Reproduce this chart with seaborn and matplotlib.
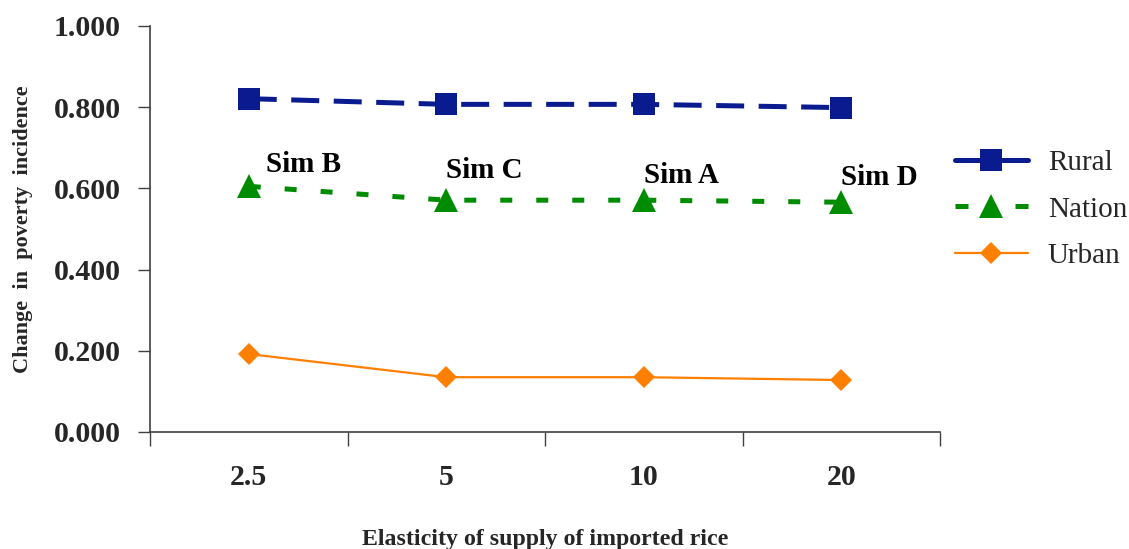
import numpy as np
import pandas as pd
import matplotlib
matplotlib.use("Agg")
import matplotlib.pyplot as plt
import seaborn as sns

# ---- data ----
categories = ["2.5", "5", "10", "20"]
rural = [0.821, 0.807, 0.807, 0.799]
nation = [0.605, 0.571, 0.571, 0.566]
urban = [0.192, 0.135, 0.135, 0.128]
sim_labels = ["Sim B", "Sim C", "Sim A", "Sim D"]
sim_y = [0.658, 0.645, 0.633, 0.626]
y_ticks = [0.0, 0.2, 0.4, 0.6, 0.8, 1.0]

sns.set_theme(style="white")
plt.rcParams["font.family"] = ["Liberation Serif", "DejaVu Serif"]

fig = plt.figure(figsize=(11.29, 5.49), dpi=100)
ax = fig.add_axes([150 / 1129, 1 - 432 / 549, 790 / 1129, 406 / 549])

df = pd.DataFrame({"cat": categories, "Rural": rural, "Nation": nation, "Urban": urban})

sns.lineplot(data=df, x="cat", y="Rural", sort=False, ax=ax, color="#0A1A8F",
             linewidth=3.6, linestyle=(0, (5.6, 2.9)), marker="s", markersize=16,
             markeredgewidth=0, label="Rural")
sns.lineplot(data=df, x="cat", y="Nation", sort=False, ax=ax, color="#008C00",
             linewidth=3.6, linestyle=(0, (2.4, 4.8)), marker="^", markersize=17,
             markeredgewidth=0, label="Nation")
sns.lineplot(data=df, x="cat", y="Urban", sort=False, ax=ax, color="#FF7F00",
             linewidth=1.6, linestyle="-", marker="D", markersize=11,
             markeredgewidth=0, label="Urban")

for i, (lab, yv) in enumerate(zip(sim_labels, sim_y)):
    ax.text(i + (0.086 if i == 0 else 0.0), yv, lab, ha="left", va="center",
            fontsize=21, fontweight="bold", color="black")

ax.set_xlim(-0.5, len(categories) - 0.5)
ax.set_ylim(0, 1.0)
ax.set_yticks(y_ticks)
ax.set_yticklabels([f"{v:.3f}" for v in y_ticks])
ax.set_xticks(range(len(categories)))
ax.set_xticklabels(categories)
ax.set_xticks(np.arange(-0.5, len(categories), 1.0), minor=True)

for lab in ax.get_xticklabels() + ax.get_yticklabels():
    lab.set_fontweight("bold")
    lab.set_fontsize(21.5)

ax.tick_params(axis="x", which="both", bottom=True)
ax.tick_params(axis="x", which="major", length=0, pad=23)
ax.tick_params(axis="x", which="minor", length=10, width=1, color="#404040", direction="out")
ax.tick_params(axis="y", which="major", left=True, length=9, width=1, color="#404040",
               direction="out", pad=12)

for s in ["top", "right"]:
    ax.spines[s].set_visible(False)
for s in ["left", "bottom"]:
    ax.spines[s].set_color("#404040")
    ax.spines[s].set_linewidth(1.2)

ax.set_xlabel("Elasticity of supply of imported rice", fontsize=17.2, fontweight="bold")
ax.xaxis.set_label_coords(0.5, -0.239)
ax.set_ylabel("Change  in  poverty  incidence", fontsize=16, fontweight="bold")
ax.yaxis.set_label_coords(-0.148, 0.5)

leg = ax.legend(loc="upper left", bbox_to_anchor=(955 / 1129, 1 - 150 / 549),
                bbox_transform=fig.transFigure, frameon=False, fontsize=21,
                handlelength=2.5, handletextpad=0.68, labelspacing=0.68,
                borderaxespad=0, borderpad=0)
lines = leg.get_lines()
lines[0].set_linestyle("-")
lines[1].set_dashes((2.6, 9.4))

fig.savefig("out.png", dpi=100)
